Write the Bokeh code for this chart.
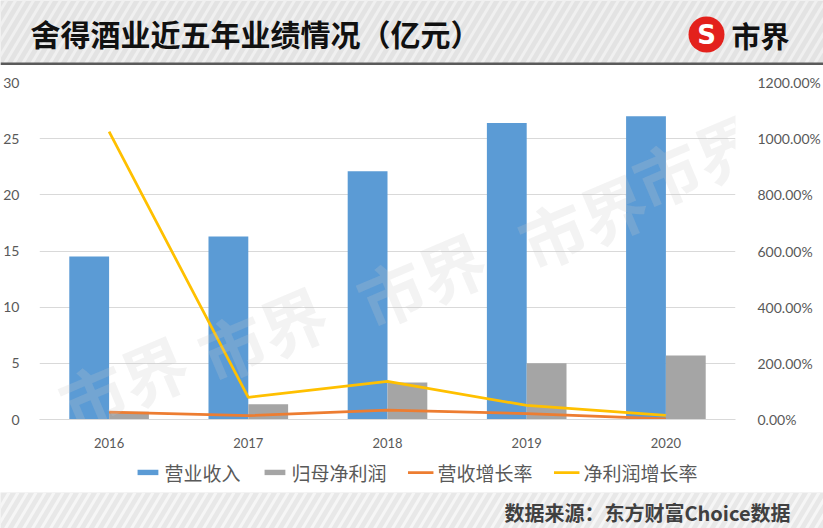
import numpy as np
from bokeh.plotting import figure
from bokeh.models import (FactorRange, Range1d, LinearAxis, NumeralTickFormatter,
                          SingleIntervalTicker, Legend, LegendItem, Label, ColumnDataSource)
from bokeh.transform import dodge
from bokeh.layouts import column
from bokeh.embed import file_html
from bokeh.resources import INLINE
from bokeh.core.properties import value

# ---------------- data ----------------
years = ["2016", "2017", "2018", "2019", "2020"]
revenue = [14.5, 16.3, 22.1, 26.4, 27.0]          # 营业收入 (亿元)
net_profit = [0.7, 1.35, 3.3, 5.0, 5.7]           # 归母净利润 (亿元)
revenue_growth = [0.26, 0.14, 0.33, 0.21, 0.02]   # 营收增长率
profit_growth = [10.25, 0.79, 1.36, 0.50, 0.15]   # 净利润增长率
series_names = ["营业收入", "归母净利润", "营收增长率", "净利润增长率"]
series_colors = ["#5b9bd5", "#a5a5a5", "#ed7d31", "#ffc000"]
title_text = "舍得酒业近五年业绩情况（亿元）"
brand_text = "市界"
source_text = "数据来源：东方财富Choice数据"

W = 823
CJK = "Noto Sans CJK SC"
LAT = "Lato"

# ---------------- header ----------------
h = figure(width=W, height=65, x_range=Range1d(0, W), y_range=Range1d(0, 65),
           output_backend="svg", toolbar_location=None, min_border=0, frame_align=False,
           x_axis_type=None, y_axis_type=None,
           background_fill_color="#e3e3e3", border_fill_color="#e3e3e3",
           outline_line_color=None)
sx = np.arange(-60, W + 10, 9)
h.segment(x0=sx, y0=0, x1=sx + 0.6 * 65, y1=65, line_color="#f0f0f0", line_width=3)
h.quad(left=0, right=W, bottom=0, top=3, fill_color="#5a5a5a", line_color=None)
h.text(x=[30], y=[33], text=[title_text], text_font=value(CJK), text_font_style="bold",
       text_font_size="30px", text_color="#111111", text_baseline="middle", text_align="left")
h.circle(x=[706], y=[31], radius=18, fill_color="#e3211c", line_color=None)
h.text(x=[706], y=[31], text=["S"], text_font=value("DejaVu Sans"), text_font_style="bold",
       text_font_size="26px", text_color="white", text_baseline="middle", text_align="center")
h.text(x=[731], y=[31], text=[brand_text], text_font=value(CJK), text_font_style="bold",
       text_font_size="29px", text_color="#111111", text_baseline="middle", text_align="left")

# ---------------- main chart ----------------
src = ColumnDataSource(dict(year=years, revenue=revenue, net=net_profit,
                            rg=revenue_growth, pg=profit_growth))

p = figure(width=W, height=387, x_range=FactorRange(*years), y_range=Range1d(0, 30),
           output_backend="svg", toolbar_location=None, frame_align=False,
           min_border_left=37, min_border_right=86, min_border_top=17, min_border_bottom=33,
           background_fill_color="white", border_fill_color="white", outline_line_color=None)
p.extra_y_ranges = {"pct": Range1d(0, 12)}

p.vbar(x=dodge("year", -0.143, range=p.x_range), top="revenue", width=0.286,
       source=src, fill_color=series_colors[0], line_color=None)
p.vbar(x=dodge("year", 0.143, range=p.x_range), top="net", width=0.286,
       source=src, fill_color=series_colors[1], line_color=None)
p.line(x="year", y="rg", source=src, y_range_name="pct",
       line_color=series_colors[2], line_width=2.75)
p.line(x="year", y="pg", source=src, y_range_name="pct",
       line_color=series_colors[3], line_width=2.75)

p.xgrid.grid_line_color = None
p.ygrid.grid_line_color = "#d9d9d9"
p.ygrid.ticker = SingleIntervalTicker(interval=5)

p.yaxis.ticker = SingleIntervalTicker(interval=5)
p.yaxis.axis_line_color = None
p.yaxis.major_tick_line_color = None
p.yaxis.minor_tick_line_color = None
p.yaxis.major_label_text_font = LAT
p.yaxis.major_label_text_font_size = "14px"
p.yaxis.major_label_text_color = "#595959"
p.yaxis.major_label_standoff = 14

p.xaxis.axis_line_color = "#d9d9d9"
p.xaxis.major_tick_line_color = None
p.xaxis.minor_tick_line_color = None
p.xaxis.major_label_text_font = LAT
p.xaxis.major_label_text_font_size = "13px"
p.xaxis.major_label_text_color = "#595959"
p.xaxis.major_label_standoff = 12

ry = LinearAxis(y_range_name="pct", ticker=SingleIntervalTicker(interval=2),
                formatter=NumeralTickFormatter(format="0.00%"))
ry.axis_line_color = None
ry.major_tick_line_color = None
ry.minor_tick_line_color = None
ry.major_label_text_font = LAT
ry.major_label_text_font_size = "14px"
ry.major_label_text_color = "#595959"
ry.major_label_standoff = 16
p.add_layout(ry, "right")

# watermarks
for wx, wy in [(0.6, 3.4), (1.6, 7.8), (2.74, 12.6), (3.9, 17.8), (4.72, 23.2)]:
    p.add_layout(Label(x=wx, y=wy, text=brand_text, angle=0.4, text_font=CJK,
                       text_font_style="bold", text_font_size="66px", text_color="#c8c8c8",
                       text_alpha=0.22, text_align="center", text_baseline="middle"))

# ---------------- legend row ----------------
lf = figure(width=W, height=40, x_range=Range1d(0, 1), y_range=Range1d(0, 1),
            output_backend="svg", toolbar_location=None, frame_align=False,
            min_border=0, min_border_left=9,
            x_axis_type=None, y_axis_type=None,
            background_fill_color="white", border_fill_color="white", outline_line_color=None)
lr0 = lf.vbar(x=[-10], top=[-10], width=0.1, fill_color=series_colors[0], line_color=None)
lr1 = lf.vbar(x=[-10], top=[-10], width=0.1, fill_color=series_colors[1], line_color=None)
lr2 = lf.line(x=[-10, -9], y=[-10, -10], line_color=series_colors[2], line_width=2.75)
lr3 = lf.line(x=[-10, -9], y=[-10, -10], line_color=series_colors[3], line_width=2.75)
legend = Legend(items=[LegendItem(label=series_names[0], renderers=[lr0]),
                       LegendItem(label=series_names[1], renderers=[lr1]),
                       LegendItem(label=series_names[2], renderers=[lr2]),
                       LegendItem(label=series_names[3], renderers=[lr3])],
                orientation="horizontal", location="center",
                glyph_width=26, glyph_height=7, label_standoff=4, spacing=21,
                padding=0, margin=0, border_line_color=None, background_fill_alpha=0,
                label_text_font=CJK, label_text_font_size="19px",
                label_text_color="#595959")
lf.add_layout(legend, "center")

# ---------------- footer ----------------
f = figure(width=W, height=36, x_range=Range1d(0, W), y_range=Range1d(0, 36),
           output_backend="svg", toolbar_location=None, min_border=0, frame_align=False,
           x_axis_type=None, y_axis_type=None,
           background_fill_color="#e8e8e8", border_fill_color="#e8e8e8",
           outline_line_color=None)
fx = np.arange(-40, W + 10, 9)
f.segment(x0=fx, y0=0, x1=fx + 0.6 * 36, y1=36, line_color="#f6f6f6", line_width=3)
f.text(x=[790], y=[16], text=[source_text], text_font=value(CJK), text_font_style="bold",
       text_font_size="20px", text_color="#404040", text_baseline="middle", text_align="right")

layout = column(h, p, lf, f, spacing=0)
open("out.html", "w").write(file_html(layout, INLINE))
